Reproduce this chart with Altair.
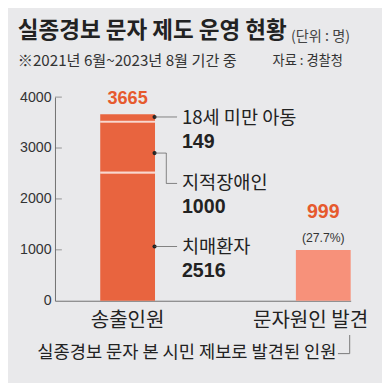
import altair as alt
import pandas as pd

# ---- data ----
categories = ["송출인원", "문자원인 발견"]
segment_names = ["치매환자", "지적장애인", "18세 미만 아동"]
segment_values = [2516, 1000, 149]
total_sent = 3665
found_value = 999
found_share = "(27.7%)"
y_ticks = [0, 1000, 2000, 3000, 4000]
title_text = "실종경보 문자 제도 운영 현황"
unit_text = "(단위 : 명)"
period_text = "※2021년 6월~2023년 8월 기간 중"
source_text = "자료 : 경찰청"
note_text = "실종경보 문자 본 시민 제보로 발견된 인원"

# ---- tables built from the arrays ----
starts, ends = [], []
acc = 0
for v in segment_values:
    starts.append(acc)
    acc += v
    ends.append(acc)
seg_df = pd.DataFrame({
    "cat": [categories[0]] * len(segment_values),
    "seg": segment_names,
    "value": segment_values,
    "start": starts,
    "end": ends,
    "mid": [(s + e) / 2 for s, e in zip(starts, ends)],
})
total_df = pd.DataFrame({"cat": [categories[0]], "v": [total_sent], "label": [str(total_sent)]})
found_df = pd.DataFrame({"cat": [categories[1]], "start": [0], "end": [found_value],
                         "label": [str(found_value)], "share": [found_share]})
tick_df = pd.DataFrame({"v": [t for t in y_ticks if t > 0]})
cat_df = pd.DataFrame({"cat": categories})
dummy = pd.DataFrame({"a": [0]})

# ---- style ----
BG = "#e9e9eb"
C1 = "#e8643f"
C2 = "#f7917a"
ORANGE = "#e65a2e"
DARK = "#222222"
LINE = "#555555"
KR = "Noto Sans CJK KR"
NUM = "Liberation Sans, Noto Sans CJK KR"

x_scale = alt.Scale(domain=categories, paddingInner=0.72, paddingOuter=0.1156, align=1)
y_scale = alt.Scale(domain=[0, 4000], nice=False)


def xenc():
    return alt.X("cat:N", scale=x_scale,
                 axis=alt.Axis(labels=False, ticks=False, title=None, grid=False,
                               domainColor="#6f6f6f", domainWidth=1))


def yenc(field):
    return alt.Y(field, type="quantitative", scale=y_scale,
                 axis=alt.Axis(values=y_ticks, format="d", title=None, grid=False, tickSize=0,
                               labelPadding=4, labelFont=NUM, labelFontSize=14.5,
                               labelColor="#333333", domainColor="#6f6f6f", domainWidth=1))


layers = []

# bars
layers.append(alt.Chart(seg_df).mark_bar(color=C1).encode(
    x=xenc(), y=yenc("start"), y2="end"))
layers.append(alt.Chart(found_df).mark_bar(color=C2).encode(
    x=xenc(), y=yenc("start"), y2="end"))

# white separators between segments
layers.append(alt.Chart(seg_df.iloc[:-1]).mark_tick(
    color="white", orient="horizontal", size=56, thickness=2.2).encode(
    x=xenc(), y=yenc("end")))

# inner ticks on y axis
layers.append(alt.Chart(tick_df).mark_tick(
    color="#6f6f6f", orient="horizontal", size=7, thickness=1, xOffset=3.5).encode(
    x=alt.value(0), y=yenc("v")))

# value labels above bars
layers.append(alt.Chart(total_df).mark_text(
    font=NUM, fontSize=18.5, fontWeight="bold", color=ORANGE, baseline="middle", dy=-16).encode(
    x=xenc(), y=yenc("v"), text="label"))
layers.append(alt.Chart(found_df).mark_text(
    font=NUM, fontSize=20, fontWeight="bold", color=ORANGE, baseline="middle", dy=-39).encode(
    x=xenc(), y=yenc("end"), text="label"))
layers.append(alt.Chart(found_df).mark_text(
    font=NUM, fontSize=12.5, color="#333333", baseline="middle", dy=-12).encode(
    x=xenc(), y=yenc("end"), text="share"))

# segment annotations (dot, leader line, name, value)
dot_dy = [10, 6, -1]
name_dy = [11, 37, 0]
num_dy = [35, 61, 25]
for i in range(len(segment_names)):
    row = seg_df.iloc[[i]]
    base = alt.Chart(row)
    layers.append(base.mark_point(filled=True, color=DARK, size=18, opacity=1,
                                  xOffset=27.5, yOffset=dot_dy[i]).encode(
        x=xenc(), y=yenc("mid")))
    if i == 1:
        layers.append(base.mark_tick(color=LINE, orient="horizontal", size=12, thickness=1,
                                     xOffset=33.5, yOffset=dot_dy[i]).encode(x=xenc(), y=yenc("mid")))
        layers.append(base.mark_tick(color=LINE, orient="vertical", size=31, thickness=1,
                                     xOffset=39.5, yOffset=dot_dy[i] + 15.5).encode(x=xenc(), y=yenc("mid")))
        layers.append(base.mark_tick(color=LINE, orient="horizontal", size=11, thickness=1,
                                     xOffset=45, yOffset=dot_dy[i] + 31).encode(x=xenc(), y=yenc("mid")))
    else:
        layers.append(base.mark_tick(color=LINE, orient="horizontal", size=23, thickness=1,
                                     xOffset=39, yOffset=dot_dy[i]).encode(x=xenc(), y=yenc("mid")))
    layers.append(base.mark_text(font=KR, fontSize=19, color=DARK, align="left",
                                 baseline="middle", dx=55.5, dy=name_dy[i]).encode(
        x=xenc(), y=yenc("mid"), text="seg"))
    layers.append(base.mark_text(font=NUM, fontSize=20, fontWeight="bold", color=DARK, align="left",
                                 baseline="middle", dx=55.5, dy=num_dy[i]).encode(
        x=xenc(), y=yenc("mid"), text="value:Q"))

# category labels
cat_dx = [0, -13]
for i, c in enumerate(categories):
    layers.append(alt.Chart(cat_df.iloc[[i]]).mark_text(
        font=KR, fontSize=20.5, color=DARK, baseline="middle", dx=cat_dx[i]).encode(
        x=xenc(), y=alt.value(229), text="cat"))

# titles and notes
def free_text(txt, x, y, size, weight="normal", align="left", color=DARK):
    return alt.Chart(dummy).mark_text(font=KR, fontSize=size, fontWeight=weight, align=align,
                                      baseline="middle", color=color).encode(
        x=alt.value(x), y=alt.value(y), text=alt.value(txt))

layers.append(free_text(title_text, -38, -67, 23, "bold"))
layers.append(free_text(unit_text, 241, -61, 14.5, color="#444444"))
layers.append(free_text(period_text, -38, -37, 15.5, color="#333333"))
layers.append(free_text(source_text, 294, -37, 13.5, align="right", color="#333333"))
layers.append(free_text(note_text, -18, 261, 18))

# bracket next to the note
layers.append(alt.Chart(dummy).mark_rule(color="#777777", strokeWidth=1).encode(
    x=alt.value(301), y=alt.value(243), y2=alt.value(262)))
layers.append(alt.Chart(dummy).mark_rule(color="#777777", strokeWidth=1).encode(
    x=alt.value(289), x2=alt.value(301), y=alt.value(262)))

chart = alt.layer(*layers).properties(
    width=302, height=208,
    autosize=alt.AutoSizeParams(type="none"),
    padding={"left": 48, "top": 87, "right": 32, "bottom": 80},
    background=BG,
).configure_view(stroke=None)

chart.save("out.html", embed_options={"renderer": "svg", "actions": False})
